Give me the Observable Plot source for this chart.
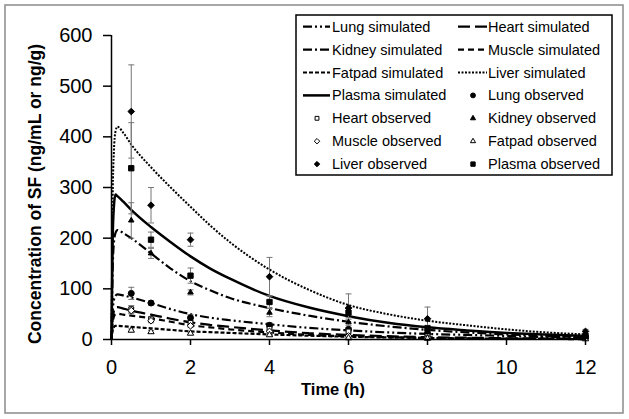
<!DOCTYPE html>
<html>
<head>
<meta charset="utf-8">
<script src="https://cdn.jsdelivr.net/npm/d3@7"></script>
<script src="https://cdn.jsdelivr.net/npm/@observablehq/plot@0.6"></script>
<style>
  html, body { margin: 0; padding: 0; background: #fff; }
  #chart { position: relative; width: 629px; height: 419px; }
  svg { font-family: "Liberation Sans", Arial, sans-serif; }
</style>
</head>
<body>
<div id="chart"></div>
<script>
// ---- data ----
const simT = [0, 0.03, 0.06, 0.1, 0.15, 0.3, 0.5, 1, 1.5, 2, 2.5, 3, 4, 5, 6, 7, 8, 9, 10, 11, 12];
const lungSim   = [0, 55, 78, 86, 89, 87, 83, 72, 60, 50, 43, 38, 30, 23, 18, 14, 11, 9, 7, 5, 4];
const heartSim  = [0, 40, 56, 63, 64, 61, 57, 49, 41, 34, 29, 25, 18, 12.5, 9, 6.5, 4.5, 3.5, 2.5, 2, 1.5];
const kidneySim = [0, 140, 190, 210, 216, 210, 200, 170, 140, 115, 97, 82, 62, 47, 35, 26, 19, 14, 10, 7, 5];
const muscleSim = [0, 32, 45, 50, 51, 49, 47, 42, 35, 28, 24, 20, 14, 9, 6.5, 4.5, 3, 2.3, 1.6, 1.1, 0.8];
const fatpadSim = [0, 17, 24, 27, 27, 26, 25, 22, 19, 16, 14.5, 13, 10, 7.5, 5.5, 4, 3, 2.3, 1.7, 1.2, 0.9];
const liverSim  = [0, 280, 370, 410, 420, 408, 385, 340, 300, 262, 225, 192, 138, 98, 68, 50, 37, 28, 20, 14, 10];
const plasmaSim = [0, 200, 262, 286, 283, 272, 256, 222, 192, 164, 140, 120, 86, 63, 46, 33, 24, 18, 13, 10, 7];

const obsT = [0.5, 1, 2, 4, 6, 8, 12];
const lungObs   = [91, 72, 43, 28, 20, 12, 5];
const lungSD    = [12, 4, 6, 5, 4, 3, 1];
const heartObs  = [60, 40, 33, 21, 16, 7, 4];
const heartSD   = [7, 5, 4, 4, 3, 2, 1];
const kidneyObs = [235, 170, 93, 53, 34, 15, 5];
const kidneySD  = [35, 10, 5, 8, 6, 4, 1];
const muscleObs = [57, 37, 27, 16, 7, 4, 3];
const muscleSD  = [6, 4, 3, 3, 2, 1, 1];
const fatpadObs = [18, 15, 12, 9, 3, 2, 1];
const fatpadSD  = [3, 3, 2, 2, 1, 1, 0.5];
const liverObs  = [450, 265, 197, 124, 62, 41, 16];
const liverSD   = [92, 35, 13, 38, 28, 23, 4];
const plasmaObs = [338, 197, 126, 74, 53, 22, 7];
const plasmaSD  = [90, 15, 15, 12, 10, 6, 2];

const xTicks = [0, 2, 4, 6, 8, 10, 12];
const yTicks = [0, 100, 200, 300, 400, 500, 600];
const xLabel = "Time (h)";
const yLabel = "Concentration of SF (ng/mL or ng/g)";

// ---- styles ----
const sims = [
  {name: "Lung simulated",   v: lungSim,   dash: "9,3,2,3,2,3", w: 2.2},
  {name: "Heart simulated",  v: heartSim,  dash: "12,5", w: 2.2},
  {name: "Kidney simulated", v: kidneySim, dash: "9,3,2,3", w: 2.2},
  {name: "Muscle simulated", v: muscleSim, dash: "6,4", w: 2.2},
  {name: "Fatpad simulated", v: fatpadSim, dash: "4,2", w: 2.2},
  {name: "Liver simulated",  v: liverSim,  dash: "2,1.5", w: 2},
  {name: "Plasma simulated", v: plasmaSim, dash: null, w: 2.5}
];
const obs = [
  {name: "Lung observed",   v: lungObs,   sd: lungSD,   symbol: "circle",   fill: "black", r: 3},
  {name: "Heart observed",  v: heartObs,  sd: heartSD,  symbol: "square2",  fill: "white", r: 3},
  {name: "Kidney observed", v: kidneyObs, sd: kidneySD, symbol: "triangle2",fill: "black", r: 2.6},
  {name: "Muscle observed", v: muscleObs, sd: muscleSD, symbol: "diamond2", fill: "white", r: 3},
  {name: "Fatpad observed", v: fatpadObs, sd: fatpadSD, symbol: "triangle2",fill: "white", r: 3},
  {name: "Liver observed",  v: liverObs,  sd: liverSD,  symbol: "diamond2", fill: "black", r: 3},
  {name: "Plasma observed", v: plasmaObs, sd: plasmaSD, symbol: "square",   fill: "black", r: 3}
];

const capSymbol = {draw(ctx, size) { const r = 3; ctx.moveTo(-r, 0); ctx.lineTo(r, 0); }};

const marks = [];
for (const s of sims) {
  const rows = simT.map((t, i) => ({t, v: s.v[i]}));
  marks.push(Plot.line(rows, {x: "t", y: "v", stroke: "black", strokeWidth: s.w,
    strokeDasharray: s.dash || undefined, strokeLinecap: "butt", strokeLinejoin: "miter",
    curve: "monotone-x"}));
}
for (const o of obs) {
  const rows = obsT.map((t, i) => ({t, v: o.v[i], lo: o.v[i] - o.sd[i], hi: o.v[i] + o.sd[i]}));
  marks.push(Plot.ruleX(rows, {x: "t", y1: "lo", y2: "hi", stroke: "#777", strokeWidth: 1}));
  marks.push(Plot.dot(rows, {x: "t", y: "hi", symbol: capSymbol, stroke: "#777", fill: "none", strokeWidth: 1}));
  marks.push(Plot.dot(rows, {x: "t", y: "lo", symbol: capSymbol, stroke: "#777", fill: "none", strokeWidth: 1}));
}
for (const o of obs) {
  const rows = obsT.map((t, i) => ({t, v: o.v[i]}));
  marks.push(Plot.dot(rows, {x: "t", y: "v", symbol: o.symbol, r: o.r, fill: o.fill, stroke: "black", strokeWidth: 1}));
}
marks.push(Plot.ruleX([0], {y1: 0, y2: 600, stroke: "black", strokeWidth: 1.5}));
marks.push(Plot.ruleY([0], {x1: 0, x2: 12, stroke: "black", strokeWidth: 1.5}));
marks.push(Plot.axisY({ticks: yTicks, tickSize: 8, tickPadding: 11, label: null, fontSize: 20, strokeWidth: 1.5}));
marks.push(Plot.axisX({ticks: xTicks, tickSize: 6, tickPadding: 14, label: null, fontSize: 20, strokeWidth: 1.5}));

const chart = Plot.plot({
  width: 629, height: 419,
  marginLeft: 111, marginRight: 44, marginTop: 35, marginBottom: 80,
  x: {domain: [0, 12]},
  y: {domain: [0, 600]},
  style: {fontFamily: "Liberation Sans, Arial, sans-serif", color: "black", background: "white"},
  marks
});
document.getElementById("chart").appendChild(chart);

// ---- decorations: border, axis titles, legend ----
const svg = d3.select(chart);
svg.insert("rect", ":first-child").attr("x", 5).attr("y", 5).attr("width", 618).attr("height", 408)
  .attr("fill", "white").attr("stroke", "#8a8a8a").attr("stroke-width", 1.5);
svg.append("text").attr("x", 333).attr("y", 389).attr("dy", "0.35em").attr("text-anchor", "middle")
  .attr("font-weight", "bold").attr("font-size", 16.5).text(xLabel);
svg.append("text").attr("transform", "translate(35,194) rotate(-90)").attr("dy", "0.35em")
  .attr("text-anchor", "middle").attr("font-weight", "bold").attr("font-size", 17.5).text(yLabel);

const lg = svg.append("g").attr("text-anchor", "start");
lg.append("rect").attr("x", 296).attr("y", 15).attr("width", 316).attr("height", 160)
  .attr("fill", "white").attr("stroke", "black").attr("stroke-width", 1.5);
const entries = [];
sims.forEach(s => entries.push({type: "line", ...s}));
obs.forEach(o => entries.push({type: "dot", ...o}));
const symMap = {circle: d3.symbolCircle, square: d3.symbolSquare, square2: d3.symbolSquare2,
  triangle2: d3.symbolTriangle2, diamond2: d3.symbolDiamond2};
entries.forEach((e, i) => {
  const col = i % 2, row = Math.floor(i / 2);
  const cy = 26.7 + row * 22.9;
  const x0 = col === 0 ? 303 : 458, x1 = col === 0 ? 330 : 487;
  const tx = col === 0 ? 332 : 488;
  if (e.type === "line") {
    lg.append("line").attr("x1", x0).attr("x2", x1).attr("y1", cy).attr("y2", cy)
      .attr("stroke", "black").attr("stroke-width", e.w).attr("stroke-dasharray", e.dash);
  } else {
    const cx = col === 0 ? 317 : 473;
    lg.append("path").attr("transform", `translate(${cx},${cy})`)
      .attr("d", d3.symbol(symMap[e.symbol], Math.PI * 6)())
      .attr("fill", e.fill).attr("stroke", "black").attr("stroke-width", 1);
  }
  lg.append("text").attr("x", tx).attr("y", cy).attr("dy", "0.35em").attr("text-anchor", "start")
    .attr("font-size", 14.5).attr("fill", "black").text(e.name);
});
</script>
</body>
</html>
